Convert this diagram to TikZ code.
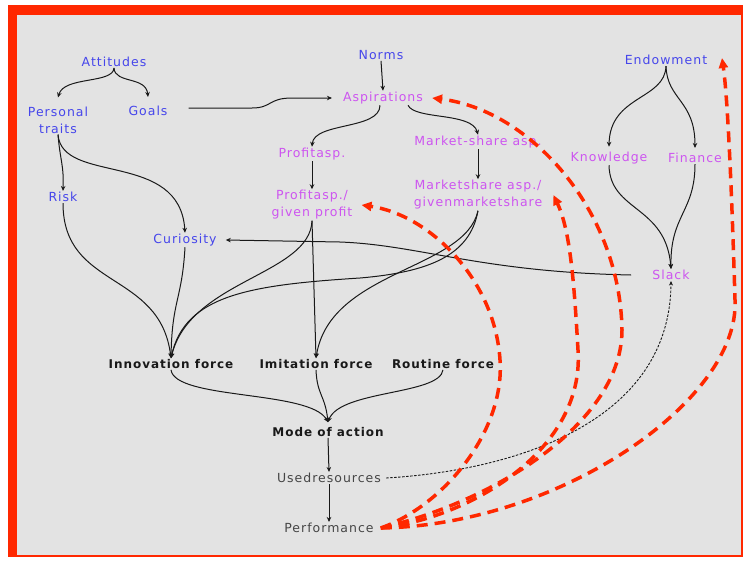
\documentclass[tikz,border=0pt]{standalone}
\usepackage{fontspec}
\setmainfont{DejaVu Sans}[LetterSpace=8]
\usetikzlibrary{arrows.meta,calc}
\definecolor{framered}{RGB}{255,40,0}
\definecolor{panel}{RGB}{227,227,227}
\definecolor{ink}{RGB}{25,25,25}
\definecolor{bluetxt}{RGB}{70,70,235}
\definecolor{pinktxt}{RGB}{205,85,240}
\definecolor{graytxt}{RGB}{70,70,70}
\begin{document}
\begin{tikzpicture}[x=1pt,y=-1pt,
  lbl/.style={font=\fontsize{12.5}{17}\selectfont, inner sep=1pt, align=center},
  blu/.style={lbl, text=bluetxt},
  pnk/.style={lbl, text=pinktxt},
  frc/.style={lbl, font=\fontsize{12}{14}\selectfont\bfseries, text=ink},
  res/.style={lbl, text=graytxt},
  link/.style={draw=ink, line width=1pt, -{Stealth[length=5pt,width=4.5pt]}},
  fb/.style={draw=framered, line width=3.5pt, dash pattern=on 11pt off 7pt, -{Triangle[length=10pt,width=9pt]}},
  dots/.style={draw=ink, line width=0.9pt, dash pattern=on 2.5pt off 1.5pt, -{Stealth[length=4.5pt,width=4pt]}}
]
\useasboundingbox (0,0) rectangle (744,560);
% frame and panel
\fill[white] (0,0) rectangle (744,560);
\fill[framered] (8,5) rectangle (743,557);
\fill[panel] (17,15) rectangle (741,555);

% labels
\node[blu] (att) at (114,62) {Attitudes};
\node[blu] (pers) at (58,120) {Personal\\traits};
\node[blu] (goals) at (148,111) {Goals};
\node[blu] (norms) at (381,55) {Norms};
\node[pnk] (asp) at (383,98) {Aspirations};
\node[pnk] (pasp) at (312,154) {Profitasp.};
\node[pnk] (pgiv) at (312,205) {Profitasp./\\given profit};
\node[pnk] (masp) at (478,142) {Market-share asp.};
\node[pnk] (mgiv) at (478,195) {Marketshare asp./\\givenmarketshare};
\node[blu] (endow) at (666,60) {Endowment};
\node[pnk] (know) at (609,158) {Knowledge};
\node[pnk] (fin) at (695,158) {Finance};
\node[pnk] (slack) at (671,275) {Slack};
\node[blu] (risk) at (63,197) {Risk};
\node[blu] (cur) at (185,240) {Curiosity};
\node[frc] (inno) at (171,364) {Innovation force};
\node[frc] (imit) at (316,364) {Imitation force};
\node[frc] (rout) at (443,364) {Routine force};
\node[frc] (mode) at (328,432) {Mode of action};
\node[res] (used) at (329,478) {Usedresources};
\node[res] (perf) at (329,528) {Performance};

% attitudes brace
\draw[link] (att.south) .. controls (113,84) and (64,76) .. ($(pers.north)+(0,-8)$);
\draw[link] (att.south) .. controls (115,84) and (146,76) .. ($(goals.north)+(0,-8)$);
% goals to aspirations
\draw[link] ($(goals.east)+(20,-3)$) -- (252,108) .. controls (272,108) and (268,98) .. (292,98) -- ($(asp.west)+(-10,0)$);
\draw[link] (norms.south) -- (asp.north);
\draw[link] ($(asp.south)+(-3,0)$) .. controls (380,130) and (314,122) .. (pasp.north);
\draw[link] ($(asp.south)+(25,0)$) .. controls (415,120) and (472,112) .. (masp.north);
\draw[link] (pasp.south) -- (pgiv.north);
\draw[link] (masp.south) -- (mgiv.north);
% personal traits
\draw[link] (pers.south) .. controls (60,160) and (64,165) .. (risk.north);
\draw[link] (pers.south) .. controls (62,185) and (180,150) .. (cur.north);
% into the innovation force
\draw[link] (risk.south) .. controls (63,290) and (160,270) .. (inno.north);
\draw[link] (cur.south) .. controls (182,300) and (172,300) .. (inno.north);
\draw[link] (pgiv.south) .. controls (310,275) and (190,280) .. (inno.north);
\draw[link] (mgiv.south) .. controls (470,255) and (430,272) .. (360,278) .. controls (250,285) and (185,295) .. (inno.north);
% into the imitation force
\draw[link] (pgiv.south) -- (imit.north);
\draw[link] (mgiv.south) .. controls (465,270) and (330,270) .. (imit.north);
% endowment
\draw[link] (endow.south) .. controls (665,100) and (610,95) .. ($(know.north)+(0,-4)$);
\draw[link] (endow.south) .. controls (667,100) and (695,100) .. ($(fin.north)+(0,-4)$);
\draw[link] (know.south) .. controls (610,212) and (666,205) .. (slack.north);
\draw[link] (fin.south) .. controls (695,212) and (670,215) .. (slack.north);
\draw[link] ($(slack.west)+(-20,0)$) .. controls (480,272) and (420,245) .. (340,242) -- ($(cur.east)+(8,0)$);
% forces to mode of action
\coordinate (mtop) at ($(mode.north)+(0,-4)$);
\draw[link] (inno.south) .. controls (175,400) and (310,390) .. (mtop);
\draw[link] (imit.south) .. controls (317,395) and (325,395) .. (mtop);
\draw[link] (rout.south) .. controls (440,395) and (340,390) .. (mtop);
\draw[link] (mode.south) -- (used.north);
\draw[link] (used.south) -- (perf.north);
% used resources feed slack
\draw[dots] ($(used.east)+(4,0)$) .. controls (520,470) and (670,420) .. (slack.south);
% performance feedback
\coordinate (pfb) at ($(perf.east)+(6,0)$);
\draw[fb] (pfb) .. controls (445,505) and (505,430) .. (500,360) .. controls (495,280) and (430,215) .. ($(pgiv.east)+(8,0)$);
\draw[fb] (pfb) .. controls (470,518) and (585,450) .. (578,350) .. controls (574,280) and (570,230) .. ($(mgiv.east)+(10,0)$);
\draw[fb] (pfb) .. controls (500,500) and (622,420) .. (622,330) .. controls (620,210) and (530,110) .. ($(asp.east)+(8,0)$);
\draw[fb] (pfb) .. controls (560,525) and (740,400) .. (735,300) .. controls (732,200) and (728,100) .. (722,58);
\end{tikzpicture}
\end{document}
